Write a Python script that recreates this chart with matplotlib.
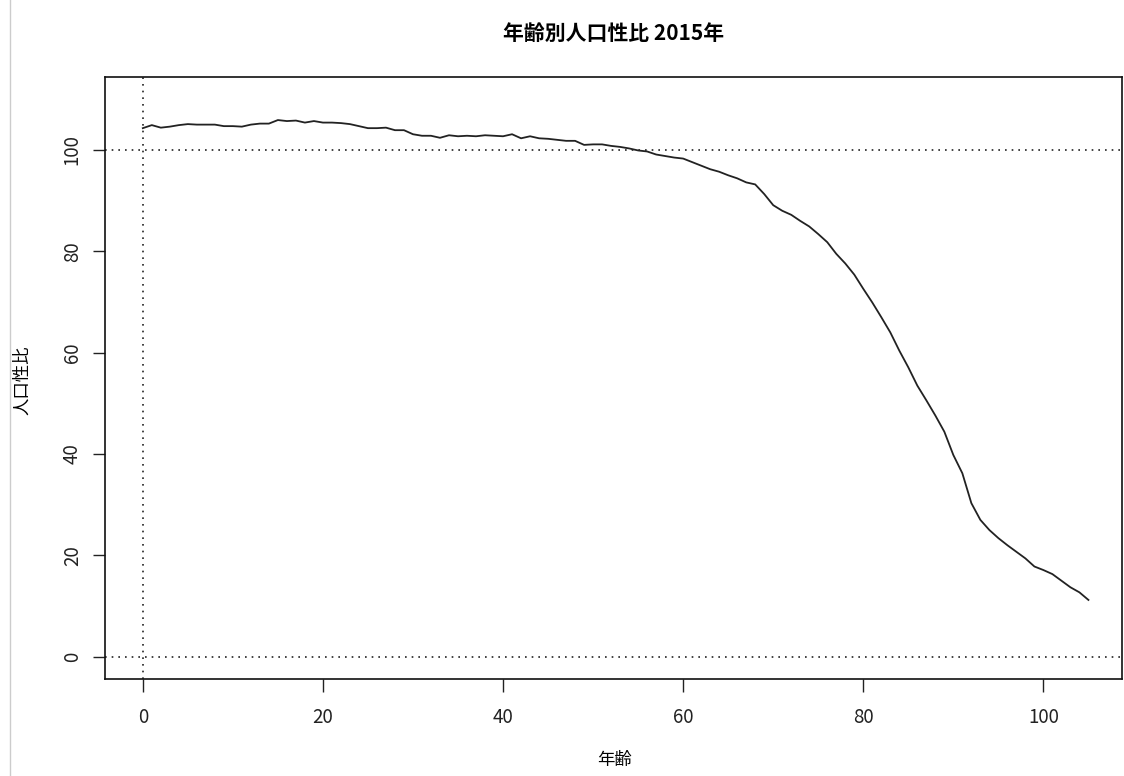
import matplotlib
matplotlib.use('Agg')
import matplotlib.pyplot as plt
from matplotlib.lines import Line2D

plt.rcParams['font.family'] = ['Noto Sans CJK JP', 'DejaVu Sans']

# Sex ratio (males per 100 females) by age, 2015
ages = list(range(0, 106))
sex_ratio = [
    104.3, 104.9, 104.4, 104.6, 104.9, 105.1, 105.0, 105.0, 105.0, 104.7,
    104.7, 104.6, 105.0, 105.2, 105.2, 105.9, 105.7, 105.8, 105.4, 105.7,
    105.4, 105.4, 105.3, 105.1, 104.7, 104.3, 104.3, 104.4, 103.9, 103.9,
    103.1, 102.8, 102.8, 102.4, 102.9, 102.7, 102.8, 102.7, 102.9, 102.8,
    102.7, 103.1, 102.3, 102.7, 102.3, 102.2, 102.0, 101.8, 101.8, 101.0,
    101.1, 101.1, 100.8, 100.6, 100.3, 99.9, 99.7, 99.1, 98.8, 98.5,
    98.3, 97.6, 96.9, 96.2, 95.7, 95.0, 94.4, 93.6, 93.2, 91.3,
    89.1, 88.0, 87.2, 86.0, 84.9, 83.4, 81.8, 79.5, 77.6, 75.4,
    72.6, 69.9, 67.0, 64.0, 60.4, 57.1, 53.5, 50.6, 47.6, 44.4,
    39.8, 36.2, 30.3, 27.0, 25.0, 23.4, 22.0, 20.7, 19.4, 17.8,
    17.1, 16.3, 15.0, 13.7, 12.7, 11.2,
]
x_ticks = [0, 20, 40, 60, 80, 100]
y_ticks = [0, 20, 40, 60, 80, 100]

fig = plt.figure(figsize=(11.24, 7.76), dpi=100)
ax = fig.add_axes([0.0934, 0.125, 0.9046, 0.7758])

ax.plot(ages, sex_ratio, color='#222222', linewidth=1.3)

# reference lines
ax.axhline(100, color='#222222', linestyle=(0, (1, 3)), linewidth=1.2)
ax.axhline(0, color='#222222', linestyle=(0, (1, 3)), linewidth=1.2)
ax.axvline(0, color='#222222', linestyle=(0, (1, 3)), linewidth=1.2)

ax.set_xlim(-4.2, 108.7)
ax.set_ylim(-4.4, 114.4)
ax.set_xticks(x_ticks)
ax.set_yticks(y_ticks)
ax.tick_params(axis='both', direction='out', length=9, width=1, labelsize=13.5,
               colors='#222222')
ax.tick_params(axis='x', pad=11)
ax.tick_params(axis='y', pad=7)
plt.setp(ax.get_yticklabels(), rotation=90, va='center')
for s in ax.spines.values():
    s.set_linewidth(1.2)
    s.set_color('#111111')

fig.text(0.547, 0.0206, '年齢', fontsize=12.5, ha='center', va='center')
fig.text(0.0196, 0.51, '人口性比', fontsize=12.5, ha='center', va='center',
         rotation=90)
ax.set_title('年齢別人口性比 2015年', fontsize=15, fontweight='bold', pad=27)

# thin page border on the left
fig.add_artist(Line2D([0.009, 0.009], [0, 1], color='#cccccc', linewidth=1))

fig.savefig('out.png', dpi=100)
